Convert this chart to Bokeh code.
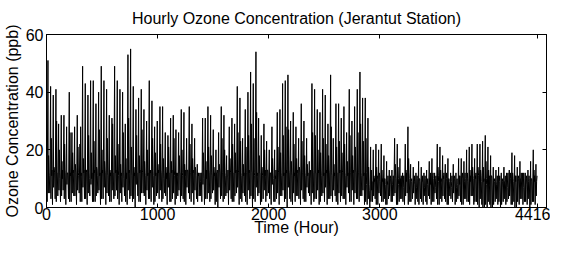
from bokeh.plotting import figure
from bokeh.models import Range1d, LinearAxis, FixedTicker, ColumnDataSource
from bokeh.embed import file_html
from bokeh.resources import INLINE

TITLE = "Hourly Ozone Concentration (Jerantut Station)"
X_LABEL = "Time (Hour)"
Y_LABEL = "Ozone Concentration (ppb)"
X_TICKS = [0, 1000, 2000, 3000, 4416]
Y_TICKS = [0, 20, 40, 60]

# daily maximum (ppb), one value per day (184 days)
PEAKS = [
    51, 42, 39, 41, 29, 32, 32, 28, 40, 26,
    28, 32, 22, 49, 43, 39, 44, 44, 36, 40,
    49, 44, 41, 32, 31, 49, 44, 41, 40, 29,
    53, 55, 42, 34, 38, 41, 34, 30, 44, 37,
    28, 30, 35, 35, 26, 25, 31, 32, 27, 26,
    34, 33, 24, 35, 29, 24, 15, 12, 31, 31,
    35, 32, 27, 20, 26, 35, 32, 18, 28, 31,
    29, 42, 38, 24, 34, 40, 47, 43, 54, 31,
    25, 29, 23, 20, 28, 20, 33, 34, 43, 44,
    46, 30, 33, 28, 24, 36, 30, 24, 16, 43,
    41, 34, 33, 41, 39, 29, 46, 24, 36, 36,
    31, 35, 26, 41, 30, 35, 41, 47, 38, 38,
    31, 21, 20, 22, 20, 22, 18, 16, 13, 13,
    24, 22, 17, 12, 22, 28, 15, 14, 12, 16,
    14, 12, 13, 16, 17, 12, 22, 21, 18, 15,
    17, 12, 15, 12, 17, 17, 16, 20, 21, 22,
    17, 22, 22, 23, 25, 21, 18, 14, 13, 14,
    12, 14, 12, 13, 19, 18, 14, 16, 12, 12,
    13, 16, 20, 15,
]

# early-morning minimum (ppb)
LOWS = [
    2, 5, 1, 3, 4, 2, 6, 1, 3, 2,
    4, 1, 5, 2, 3, 1, 4, 2, 2, 5,
    1, 3, 1, 4, 2, 3, 6, 1, 2, 4,
    1, 3, 2, 0, 4, 2, 5, 1, 3, 2,
    1, 4, 3, 2, 5, 1, 2, 3, 1, 4,
    2, 3, 1, 5, 2, 1, 3, 4, 2, 1,
    3, 2, 5, 1, 0, 3, 2, 4, 1, 3,
    2, 5, 1, 2, 4, 1, 3, 0, 2, 4,
    1, 3, 2, 5, 1, 2, 3, 1, 4, 2,
    0, 3, 1, 2, 4, 1, 3, 2, 5, 1,
    2, 3, 1, 4, 2, 1, 3, 2, 4, 1,
    2, 3, 1, 5, 2, 1, 3, 2, 4, 1,
    1, 0, 2, 3, 1, 4, 2, 1, 3, 2,
    4, 1, 2, 3, 1, 5, 2, 3, 1, 2,
    3, 1, 2, 4, 1, 2, 3, 1, 2, 3,
    1, 4, 2, 1, 3, 2, 1, 3, 2, 4,
    1, 2, 0, 1, 0, 0, 1, 0, 2, 1,
    0, 2, 1, 3, 1, 2, 0, 1, 3, 2,
    1, 0, 2, 1,
]

# afternoon dip after the peak (ppb)
DIPS = [
    5, 3, 7, 2, 6, 4, 3, 8, 2, 5,
    4, 6, 2, 7, 3, 5, 8, 2, 4, 6,
    3, 7, 5, 2, 6, 4, 3, 5, 7, 2,
    6, 4, 3, 8, 2, 5, 4, 6, 3, 7,
    2, 5, 6, 3, 4, 7, 2, 5, 3, 6,
    4, 2, 7, 3, 5, 6, 2, 4, 8, 3,
    5, 3, 6, 2, 7, 4, 3, 5, 6, 2,
    4, 7, 3, 5, 2, 6, 4, 3, 7, 5,
    2, 6, 4, 3, 8, 2, 5, 4, 6, 3,
    7, 2, 5, 4, 3, 6, 2, 7, 4, 5,
    3, 6, 2, 5, 7, 3, 4, 6, 2, 5,
    4, 3, 7, 2, 6, 5, 3, 4, 6, 2,
    3, 2, 4, 1, 5, 2, 3, 1, 4, 2,
    5, 1, 3, 2, 4, 1, 2, 5, 3, 1,
    2, 4, 1, 3, 2, 5, 1, 3, 4, 2,
    1, 3, 5, 2, 4, 1, 3, 2, 1, 4,
    2, 1, 3, 0, 1, 2, 0, 1, 3, 2,
    1, 3, 2, 4, 1, 0, 2, 3, 1, 2,
    3, 1, 2, 4,
]

# evening secondary bump (ppb)
BUMPS = [
    18, 24, 14, 30, 20, 16, 22, 12, 26, 19,
    15, 21, 28, 17, 13, 25, 19, 23, 14, 27,
    20, 16, 24, 13, 29, 18, 22, 15, 26, 17,
    31, 21, 14, 25, 18, 27, 16, 20, 13, 24,
    19, 15, 22, 17, 14, 21, 16, 24, 12, 18,
    20, 15, 13, 22, 17, 14, 12, 9, 19, 16,
    21, 18, 14, 12, 15, 24, 20, 11, 17, 22,
    19, 26, 23, 15, 21, 25, 29, 24, 33, 18,
    14, 20, 13, 12, 17, 11, 21, 19, 25, 28,
    27, 16, 22, 17, 14, 23, 18, 15, 10, 26,
    25, 20, 19, 24, 22, 18, 28, 15, 21, 23,
    19, 22, 16, 25, 18, 21, 26, 29, 23, 24,
    14, 13, 11, 14, 12, 13, 10, 9, 8, 8,
    15, 14, 10, 7, 13, 17, 9, 8, 7, 10,
    9, 7, 8, 10, 11, 7, 14, 13, 11, 9,
    10, 7, 9, 7, 11, 10, 9, 12, 13, 14,
    11, 14, 13, 14, 16, 13, 11, 9, 8, 9,
    7, 9, 7, 8, 12, 11, 9, 10, 7, 8,
    9, 10, 13, 9,
]

# night-time level (ppb)
NIGHTS = [
    12, 11, 13, 12, 12, 10, 13, 12, 11, 12,
    13, 12, 11, 12, 13, 12, 10, 12, 13, 11,
    12, 13, 12, 11, 12, 12, 13, 11, 12, 10,
    12, 13, 11, 12, 12, 13, 12, 11, 12, 13,
    11, 12, 13, 12, 10, 12, 12, 13, 11, 12,
    12, 11, 13, 12, 12, 13, 11, 12, 12, 10,
    13, 12, 11, 12, 13, 12, 12, 11, 13, 12,
    12, 13, 12, 11, 12, 12, 13, 12, 11, 12,
    12, 11, 13, 12, 12, 10, 13, 12, 11, 12,
    13, 12, 11, 12, 13, 12, 12, 11, 12, 13,
    12, 12, 13, 11, 12, 13, 12, 11, 12, 12,
    13, 12, 11, 12, 12, 13, 12, 12, 11, 12,
    8, 6, 9, 10, 11, 9, 10, 8, 11, 10,
    11, 10, 8, 11, 9, 12, 10, 9, 11, 10,
    9, 11, 10, 8, 12, 10, 11, 9, 10, 12,
    10, 9, 11, 10, 8, 11, 12, 10, 9, 11,
    10, 12, 11, 9, 10, 8, 11, 10, 9, 11,
    10, 9, 11, 12, 10, 9, 11, 10, 12, 10,
    11, 10, 9, 11,
]

hours, conc = [], []
for d in range(len(PEAKS)):
    base = 24 * d
    hours += [base + 1, base + 6, base + 13, base + 16, base + 19, base + 23]
    conc += [NIGHTS[d], LOWS[d], PEAKS[d], DIPS[d], BUMPS[d], NIGHTS[d]]

src = ColumnDataSource(data=dict(hour=hours, conc=conc))

FONT = "Liberation Sans"

p = figure(width=550, height=238, output_backend="svg", toolbar_location=None,
           x_range=Range1d(0, 4500), y_range=Range1d(0, 60),
           min_border_left=45, min_border_right=4, min_border_top=33,
           min_border_bottom=25, title=TITLE)

p.title.align = "center"
p.title.text_font = FONT
p.title.text_font_size = "16px"
p.title.text_font_style = "normal"
p.title.text_color = "black"
p.title.standoff = 15

p.line("hour", "conc", source=src, color="black", line_width=1)

p.xgrid.visible = False
p.ygrid.visible = False
p.outline_line_color = "black"
p.outline_line_alpha = 1
p.background_fill_color = "white"
p.border_fill_color = "white"

for ax in (p.xaxis[0], p.yaxis[0]):
    ax.major_tick_in = 4
    ax.major_tick_out = 0
    ax.minor_tick_line_color = None
    ax.axis_line_color = "black"
    ax.major_tick_line_color = "black"
    ax.major_label_text_font = FONT
    ax.major_label_text_font_size = "16px"
    ax.major_label_text_color = "black"
    ax.axis_label_text_font = FONT
    ax.axis_label_text_font_size = "16px"
    ax.axis_label_text_font_style = "normal"
    ax.axis_label_text_color = "black"

p.xaxis[0].ticker = FixedTicker(ticks=X_TICKS)
p.yaxis[0].ticker = FixedTicker(ticks=Y_TICKS)
p.xaxis[0].axis_label = X_LABEL
p.yaxis[0].axis_label = Y_LABEL
p.xaxis[0].major_label_standoff = 0
p.xaxis[0].axis_label_standoff = -4
p.yaxis[0].major_label_standoff = 3
p.yaxis[0].axis_label_standoff = 2

top = LinearAxis(ticker=FixedTicker(ticks=X_TICKS), major_tick_in=4, major_tick_out=0,
                 minor_tick_line_color=None, major_label_text_color=None,
                 major_label_text_font_size="1px",
                 major_label_standoff=0, axis_line_color="black")
right = LinearAxis(ticker=FixedTicker(ticks=Y_TICKS), major_tick_in=4, major_tick_out=0,
                   minor_tick_line_color=None, major_label_text_color=None,
                   major_label_text_font_size="1px",
                   major_label_standoff=0, axis_line_color="black")
p.add_layout(top, "above")
p.add_layout(right, "right")

open("out.html", "w").write(file_html(p, INLINE))
